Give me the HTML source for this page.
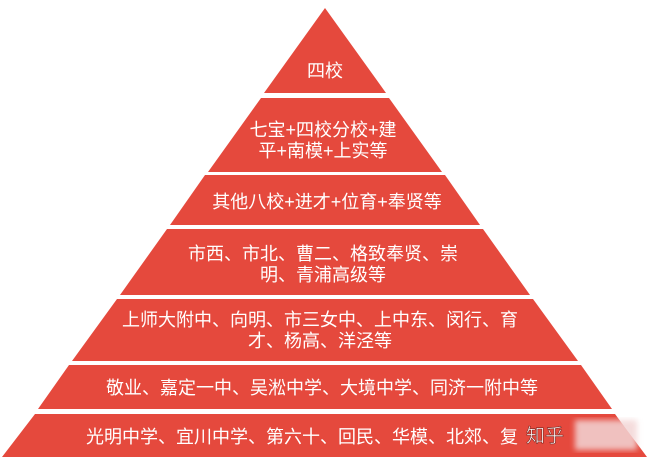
<!DOCTYPE html>
<html><head><meta charset="utf-8"><style>
html,body{margin:0;padding:0;background:#fff;width:649px;height:462px;overflow:hidden}
svg text{font-family:"Liberation Sans","Noto Sans CJK SC",sans-serif;font-size:18px;fill:#fff;text-anchor:middle}
</style></head><body>
<svg width="649" height="462" viewBox="0 0 649 462">
<defs><filter id="b"><feGaussianBlur stdDeviation="3"/></filter></defs>
<g fill="#e5493d">
<polygon points="325,8 386,93 264,93"/>
<polygon points="261,98 389,98 442,172 208,172"/>
<polygon points="205,175 445,175 480,225 170,225"/>
<polygon points="167,229 483,229 530,295 120,295"/>
<polygon points="117,299 533,299 578,361 72,361"/>
<polygon points="69,365 581,365 612,409 38,409"/>
<polygon points="35,414 615,414 647,457 2,457"/>
</g>
<rect x="575" y="420" width="62" height="30" fill="#f3d6d6" filter="url(#b)" opacity="0.85"/>
<text x="325" y="77">四校</text>
<text x="323" y="136">七宝+四校分校+建</text>
<text x="323" y="157">平+南模+上实等</text>
<text x="327" y="208">其他八校+进才+位育+奉贤等</text>
<text x="323" y="260">市西、市北、曹二、格致奉贤、崇</text>
<text x="323" y="281">明、青浦高级等</text>
<text x="320" y="326">上师大附中、向明、市三女中、上中东、闵行、育</text>
<text x="320" y="347">才、杨高、洋泾等</text>
<text x="322" y="394">敬业、嘉定一中、吴淞中学、大境中学、同济一附中等</text>
<text x="302" y="443">光明中学、宜川中学、第六十、回民、华模、北郊、复</text>
<text x="545" y="442" style="font-size:19px;stroke:#7a2a24;stroke-width:0.6">知乎</text>
</svg>
</body></html>
